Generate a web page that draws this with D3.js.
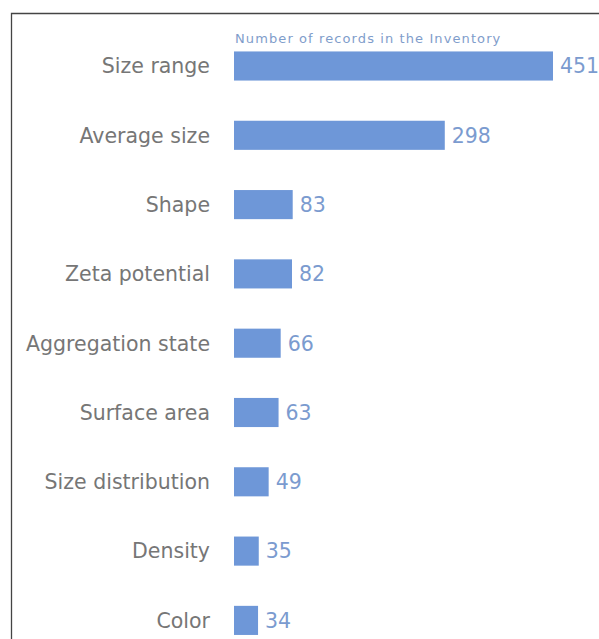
<!DOCTYPE html>
<html>
<head>
<meta charset="utf-8">
<script src="https://cdn.jsdelivr.net/npm/d3@7"></script>
<style>
  body { margin: 0; background: #fff; }
  svg { display: block; }
</style>
</head>
<body>
<div id="chart"></div>
<script>
const categories = ['Size range', 'Average size', 'Shape', 'Zeta potential',
  'Aggregation state', 'Surface area', 'Size distribution', 'Density', 'Color'];
const counts = [451, 298, 83, 82, 66, 63, 49, 35, 34];
const title = 'Number of records in the Inventory';

const width = 599, height = 639;
const margin = { left: 234, right: 46 };

const svg = d3.select('#chart').append('svg')
  .attr('width', width).attr('height', height);

// frame (top + left edge of the cropped figure box)
svg.append('path')
  .attr('d', `M11.5 ${height} V13.5 H${width}`)
  .attr('fill', 'none').attr('stroke', '#444').attr('stroke-width', 1.3);

const sx = d3.scaleLinear()
  .domain([0, d3.max(counts)])
  .range([margin.left, width - margin.right]);

const sy = d3.scaleBand()
  .domain(categories)
  .range([31.35, 655.05])
  .paddingInner(0.58).paddingOuter(0.29);

const data = categories.map((c, i) => ({ c, v: counts[i] }));

svg.append('g').selectAll('rect').data(data).join('rect')
  .attr('x', sx(0))
  .attr('y', d => sy(d.c))
  .attr('width', d => sx(d.v) - sx(0))
  .attr('height', sy.bandwidth())
  .attr('fill', '#6e97d8');

const font = 'Verdana, "DejaVu Sans", sans-serif';

svg.append('g').selectAll('text').data(data).join('text')
  .attr('x', 210)
  .attr('y', d => sy(d.c) + sy.bandwidth() / 2)
  .attr('dy', '0.36em')
  .attr('text-anchor', 'end')
  .attr('font-family', font)
  .attr('font-size', 20.5)
  .attr('fill', '#767676')
  .text(d => d.c);

svg.append('g').selectAll('text').data(data).join('text')
  .attr('x', d => sx(d.v) + 7)
  .attr('y', d => sy(d.c) + sy.bandwidth() / 2)
  .attr('dy', '0.36em')
  .attr('font-family', font)
  .attr('font-size', 20.5)
  .attr('fill', '#7b9bcf')
  .text(d => d.v);

svg.append('text')
  .attr('x', sx(0) + 1).attr('y', 43)
  .attr('font-family', font)
  .attr('font-size', 13)
  .attr('letter-spacing', 1.1)
  .attr('fill', '#7f9dcb')
  .text(title);
</script>
</body>
</html>
